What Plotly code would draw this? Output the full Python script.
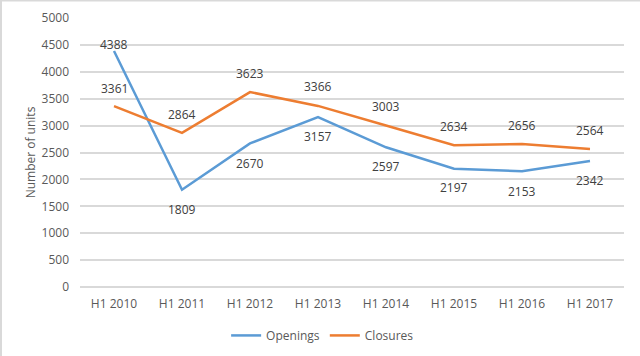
import plotly.graph_objects as go

categories = ["H1 2010", "H1 2011", "H1 2012", "H1 2013", "H1 2014", "H1 2015", "H1 2016", "H1 2017"]
openings = [4388, 1809, 2670, 3157, 2597, 2197, 2153, 2342]
closures = [3361, 2864, 3623, 3366, 3003, 2634, 2656, 2564]
y_ticks = [0, 500, 1000, 1500, 2000, 2500, 3000, 3500, 4000, 4500, 5000]

# vertical label offsets in px (positive = above the point)
open_shift = [6, -20, -20, -19, -19, -19, -20, -19]
close_shift = [18, 18, 19, 19, 19, 19, 19, 19]

fig = go.Figure()
fig.add_trace(go.Scatter(
    x=categories, y=openings, name="Openings", mode="lines",
    line=dict(color="#5B9BD5", width=2.5),
))
fig.add_trace(go.Scatter(
    x=categories, y=closures, name="Closures", mode="lines",
    line=dict(color="#ED7D31", width=2.5),
))

annotations = []
for c, v, s in zip(categories, openings, open_shift):
    annotations.append(dict(x=c, y=v, text=str(v), showarrow=False, yshift=s,
                            font=dict(family="Open Sans", size=12, color="#404040")))
for c, v, s in zip(categories, closures, close_shift):
    annotations.append(dict(x=c, y=v, text=str(v), showarrow=False, yshift=s,
                            font=dict(family="Open Sans", size=12, color="#404040")))

fig.update_layout(
    width=640, height=356,
    margin=dict(l=80, r=16, t=18, b=69, autoexpand=False),
    paper_bgcolor="white", plot_bgcolor="white",
    font=dict(family="Open Sans", size=12, color="#595959"),
    showlegend=True,
    legend=dict(orientation="h", x=0.446, xanchor="center", y=-0.18, yanchor="middle",
                font=dict(size=12, color="#595959"), itemwidth=30, tracegroupgap=0),
    xaxis=dict(type="category", range=[-0.5, 7.5], showgrid=False, showline=False,
               ticks="", automargin=False, ticklabelstandoff=8,
               tickfont=dict(size=12, color="#595959")),
    yaxis=dict(range=[0, 5000], tickvals=y_ticks, showgrid=True, gridcolor="#D9D9D9",
               gridwidth=1.5, zeroline=True, zerolinecolor="#D9D9D9", zerolinewidth=1.5,
               ticks="", automargin=False, ticklabelstandoff=10,
               tickfont=dict(size=12, color="#595959"),
               title=dict(text="Number of units", font=dict(size=12, color="#595959"), standoff=3)),
    annotations=annotations,
    shapes=[
        dict(type="line", xref="paper", yref="paper", x0=-79/544, x1=-79/544, y0=-69/269, y1=1 + 18/269,
             line=dict(color="#D9D9D9", width=2)),
        dict(type="line", xref="paper", yref="paper", x0=-80/544, x1=1 + 16/544, y0=1 + 17.5/269, y1=1 + 17.5/269,
             line=dict(color="#D9D9D9", width=2)),
    ],
)

fig.write_html("out.html", config={"displayModeBar": False},
               post_script="document.body.style.margin='0';document.body.style.overflow='hidden';")
